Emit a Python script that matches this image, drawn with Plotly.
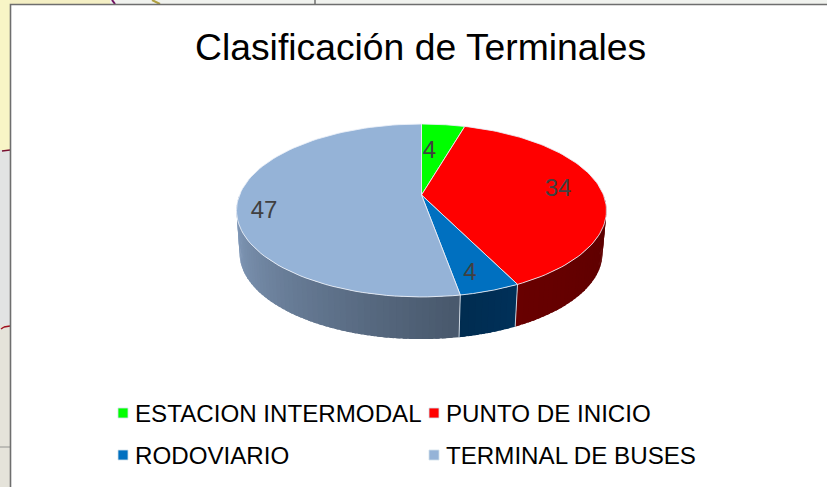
import numpy as np
import plotly.graph_objects as go

categories = ["ESTACION INTERMODAL", "PUNTO DE INICIO", "RODOVIARIO", "TERMINAL DE BUSES"]
values = [4, 34, 4, 47]
title_text = "Clasificación de Terminales"

top_colors = ["#00FF00", "#FF0000", "#0070C0", "#95B3D7"]
side_left = [(0, 120, 0), (104, 0, 0), (0, 44, 80), (138, 163, 196)]
side_right = [(0, 100, 0), (92, 0, 0), (0, 48, 88), (72, 88, 108)]

CX, CY, A, B, K = 421.5, 195.0, 182.0, 83.7, 0.179
CX2, CY2, A2, B2 = 421.0, 238.0, 178.5, 83.0


def proj(theta, rho=1.0, cx=CX, cy=CY, a=A, b=B):
    d = 1 + K * rho * np.cos(theta)
    return cx + a * rho * np.sin(theta) / d, cy - b * rho * np.cos(theta) / d


fractions = np.cumsum([0] + values) / sum(values) * 2 * np.pi
fig = go.Figure()


def poly(xs, ys, fill, line=None, width=0.0):
    fig.add_trace(go.Scatter(
        x=list(xs), y=list(ys), mode="lines", fill="toself", fillcolor=fill,
        line=dict(color=line or fill, width=width), hoverinfo="skip", showlegend=False))


# Side wall: overlapping strips shaded from left to right across each slice
for i in range(len(values)):
    t0, t1 = fractions[i], fractions[i + 1]
    lo, hi = max(t0, np.pi / 2), min(t1, 3 * np.pi / 2)
    if hi <= lo:
        continue
    n = max(2, int((hi - lo) / 0.03))
    edges = np.linspace(lo, hi, n + 1)
    for j in range(n - 1, -1, -1):
        end = edges[j + 1] if j == n - 1 else edges[j + 1] + 0.02
        th = np.linspace(edges[j], end, 4)
        xt, yt = proj(th)
        xb, yb = proj(th, 1.0, CX2, CY2, A2, B2)
        f = 1 - (j + 0.5) / n
        c = [round(side_left[i][m] + (side_right[i][m] - side_left[i][m]) * f) for m in range(3)]
        col = f"rgb({c[0]},{c[1]},{c[2]})"
        poly(np.r_[xt, xb[::-1]], np.r_[yt, yb[::-1]], col, col, 0)

# Light seams on the wall between slices
for i in range(len(values)):
    t = fractions[i]
    if np.pi / 2 < t < 3 * np.pi / 2:
        xt, yt = proj(t)
        xb, yb = proj(t, 1.0, CX2, CY2, A2, B2)
        fig.add_trace(go.Scatter(x=[xt, xb], y=[yt, yb], mode="lines",
                                 line=dict(color="rgba(225,232,240,0.85)", width=1),
                                 hoverinfo="skip", showlegend=False))

# Top face
for i in range(len(values)):
    th = np.linspace(fractions[i], fractions[i + 1], 90)
    xs, ys = proj(th)
    poly(np.r_[CX, xs, CX], np.r_[CY, ys, CY], top_colors[i], "rgba(235,240,248,0.85)", 1)

# Data labels
label_x = [429.5, 558, 470, 264]
label_y = [152, 190, 274, 212]
fig.add_trace(go.Scatter(
    x=label_x, y=label_y, mode="text", text=[str(v) for v in values],
    textposition="middle center",
    textfont=dict(family="Liberation Sans", size=24, color="#404040"),
    hoverinfo="skip", showlegend=False))

# Legend
legend_x = [123, 434, 123, 434]
legend_y = [413, 413, 455, 455]
for i, name in enumerate(categories):
    fig.add_trace(go.Scatter(
        x=[legend_x[i]], y=[legend_y[i]], mode="markers",
        marker=dict(symbol="square", size=10, color=top_colors[i],
                    line=dict(color="rgba(210,225,235,0.8)", width=1)),
        hoverinfo="skip", showlegend=False))
    fig.add_annotation(x=legend_x[i] + 9.5, y=legend_y[i], text=name, showarrow=False,
                       xanchor="left", yanchor="middle", xref="x", yref="y",
                       font=dict(family="Liberation Sans", size=24.15, color="#000000"))

fig.add_annotation(x=420, y=47, text=title_text, showarrow=False, xanchor="center", yanchor="middle",
                   font=dict(family="Liberation Sans", size=37.3, color="#000000"))


def mark(x0, y0, x1, y1, color, width=1.5):
    return dict(type="line", x0=x0, y0=y0, x1=x1, y1=y1, layer="below",
                line=dict(color=color, width=width))


shapes = [
    dict(type="rect", x0=0, x1=827, y0=0, y1=487, fillcolor="#F0F2EE", line_width=0, layer="below"),
    dict(type="rect", x0=0, x1=110, y0=0, y1=5, fillcolor="#F4EFC4", line_width=0, layer="below"),
    dict(type="rect", x0=0, x1=10, y0=0, y1=150, fillcolor="#F8F5C6", line_width=0, layer="below"),
    dict(type="rect", x0=0, x1=10, y0=150, y1=325, fillcolor="#E2E3E3", line_width=0, layer="below"),
    dict(type="rect", x0=0, x1=10, y0=325, y1=487, fillcolor="#E5E3DA", line_width=0, layer="below"),
    mark(2, 151, 10, 150, "#7A1030"),
    mark(1, 329, 4, 327, "#A01020"),
    mark(4, 327, 10, 326, "#A01020"),
    mark(0, 447, 10, 447, "#808080", 0.8),
    mark(112, 0, 115, 4, "#701060", 2),
    mark(152, 0, 160, 4, "#B0A040", 2),
    mark(315, 0, 315, 4, "#303030", 1),
    dict(type="rect", x0=10.5, x1=840, y0=4.5, y1=500, fillcolor="#FFFFFF",
         line=dict(color="#6E6E6E", width=1.6), layer="below"),
]

fig.update_layout(
    width=827, height=487, margin=dict(l=0, r=0, t=0, b=0),
    paper_bgcolor="#FFFFFF", plot_bgcolor="#FFFFFF",
    xaxis=dict(range=[0, 827], visible=False, fixedrange=True),
    yaxis=dict(range=[487, 0], visible=False, fixedrange=True),
    shapes=shapes, showlegend=False,
)
fig.write_html("out.html", config=dict(displayModeBar=False),
               post_script="document.body.style.margin='0';document.body.style.overflow='hidden';")
